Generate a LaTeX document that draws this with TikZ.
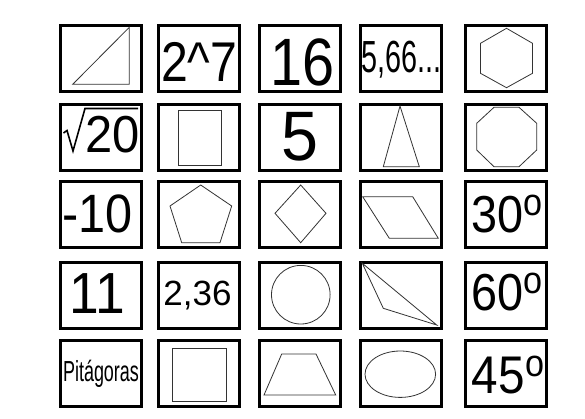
\documentclass[tikz,border=0pt]{standalone}
\usepackage{fontspec}
\usepackage{graphicx}
\setmainfont{Liberation Sans}
\newcommand{\Txt}[3]{{\fontsize{#1}{#1}\selectfont\scalebox{#2}[1]{#3}}}
\newcommand{\Deg}{\raisebox{16.5pt}{\fontsize{38}{38}\selectfont o}}
\begin{document}
\begin{tikzpicture}[x=1pt,y=-1pt,
  cell/.style={draw=black, line width=3pt, minimum width=81pt, minimum height=66pt, inner sep=0pt},
  fig/.style={draw=black!80, line width=0.8pt, line join=miter},
  lab/.style={anchor=base, inner sep=0pt}]
\useasboundingbox[fill=white] (0,0) rectangle (585,418);
% boxes
\foreach \c/\x in {1/101,2/199,3/300,4/400.5,5/506}{
  \foreach \r/\y in {1/58.5,2/137,3/214.5,4/295.5,5/373.5}{
    \node[cell] (b\r\c) at (\x,\y) {};
  }
}
% row 1
\draw[fig] (72.7,84.3) -- (129.3,27.3) -- (129.3,84.3) -- cycle;
\node[lab] (t12) at (199.2,81.7) {\Txt{56}{0.86}{2\^{}7}};
\node[lab] (t13) at (302.5,85) {\Txt{67}{0.86}{16}};
\node[lab] (t14) at (401.5,72) {\Txt{45}{0.64}{5,66...}};
\draw[fig] (506.5,28.3) -- (532.5,43.3) -- (532.5,73.3) -- (506.5,87.7) -- (480.5,73.3) -- (480.5,43.3) -- cycle;
% row 2
\draw[line width=1.6pt, line join=miter, line cap=butt] (63.5,133) -- (67,130.5) -- (73,151) -- (85,108.5) -- (138,108.5);
\node[lab] (t21) at (112.5,152) {\Txt{52}{0.94}{20}};
\draw[fig] (178.3,110) rectangle (221,165.7);
\node[lab] (t23) at (300,160) {\Txt{70}{0.95}{5}};
\draw[fig] (400,106) -- (419.3,166.7) -- (383.3,166.7) -- cycle;
\draw[fig] (494,107.3) -- (519,107.3) -- (536.7,123.3) -- (536.7,150) -- (519,166.7) -- (494,166.7) -- (476.7,150) -- (476.7,123.3) -- cycle;
% row 3
\node[lab] (t31) at (97.5,232) {\Txt{54}{0.9}{-10}};
\draw[fig] (200.7,185) -- (231.7,206) -- (220,242.7) -- (181.7,242.7) -- (170,206) -- cycle;
\draw[fig] (300.7,185) -- (326,213.3) -- (300.7,242.7) -- (275,213.3) -- cycle;
\draw[fig] (362.7,196.7) -- (412.7,196.7) -- (438.3,238.3) -- (389.3,238.3) -- cycle;
\node[lab] (t35) at (507,232) {\Txt{52}{0.9}{30\Deg}};
% row 4
\node[lab] (t41) at (97.5,313.3) {\Txt{58}{0.92}{11}};
\node[lab] (t42) at (197.5,305) {\Txt{35}{1}{2,36}};
\draw[fig] (300.8,294.7) circle (29.3);
\draw[fig] (362.3,263.3) -- (383.3,308.3) -- (436.7,325) -- cycle;
\node[lab] (t45) at (507,310) {\Txt{52}{0.9}{60\Deg}};
% row 5
\node[lab] (t51) at (101,381) {\Txt{29}{0.62}{Pitágoras}};
\draw[fig] (172.7,348.3) rectangle (226.7,401);
\draw[fig] (281.7,354) -- (316,354) -- (335.7,395) -- (264,395) -- cycle;
\draw[fig] (400.3,374.2) ellipse [x radius=35.3, y radius=23.2];
\node[lab] (t55) at (508,393) {\Txt{53}{0.9}{45\Deg}};
\end{tikzpicture}
\end{document}
